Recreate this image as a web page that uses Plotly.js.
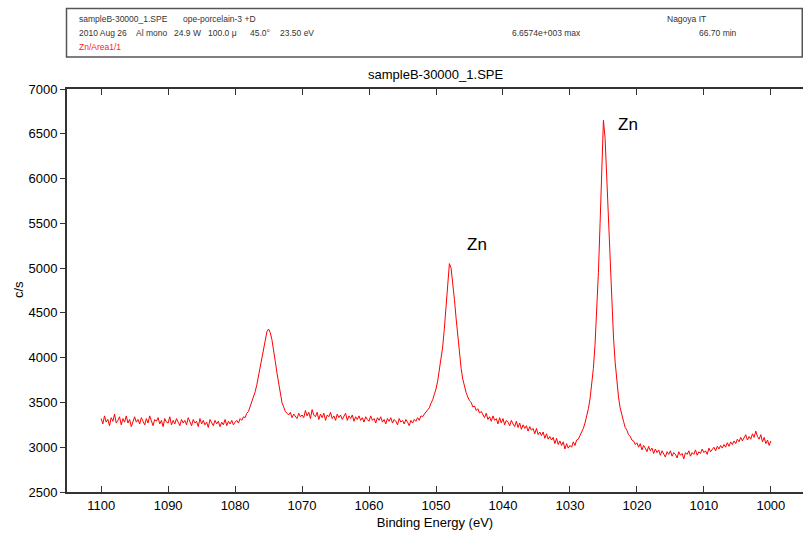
<!DOCTYPE html>
<html>
<head>
<meta charset="utf-8">
<script src="https://cdn.plot.ly/plotly-3.0.1.min.js"></script>
<style>html,body{margin:0;padding:0;background:#fff;}#chart{width:803px;height:540px;}</style>
</head>
<body>
<div id="chart"></div>
<script>
// Binding energies from 1100 eV down to 1000 eV in 0.25 eV steps
const startEnergy = 1100;
const energyStep = 0.25;
// Counts per second
const counts = [
 // 1100 -> 1080
 3320,3260,3350,3280,3310,3240,3330,3290,3370,3270,
 3300,3340,3250,3320,3280,3350,3270,3310,3230,3300,
 3340,3280,3310,3260,3330,3290,3250,3320,3270,3350,
 3280,3240,3310,3290,3330,3260,3300,3230,3320,3280,
 3270,3340,3250,3300,3260,3320,3280,3240,3310,3270,
 3300,3250,3330,3280,3240,3310,3270,3290,3230,3320,
 3260,3300,3250,3280,3220,3310,3270,3240,3300,3260,
 3290,3230,3280,3250,3310,3240,3290,3260,3300,3250,
 3280,
 // 1079.75 -> 1070 (peak near 1075)
 3300,3270,3320,3300,3340,3330,3380,3400,3450,3500,
 3570,3620,3700,3800,3900,4020,4130,4230,4290,4320,
 4280,4200,4100,3960,3830,3700,3590,3500,3450,3400,
 3380,3360,3390,3330,3370,3350,3320,3380,3340,3360,
 // 1069.75 -> 1053.25
 3330,3410,3350,3390,3320,3420,3360,3340,3390,3310,
 3370,3330,3380,3300,3360,3340,3390,3320,3350,3300,
 3370,3330,3360,3310,3340,3380,3300,3350,3320,3360,
 3290,3340,3310,3350,3300,3330,3280,3340,3310,3290,
 3350,3300,3320,3270,3330,3300,3340,3280,3310,3260,
 3320,3290,3330,3270,3310,3290,3250,3320,3280,3300,
 3260,3310,3280,3240,3300,3270,3310,
 // 1053 -> 1043 (peak near 1048)
 3290,3330,3300,3350,3340,3370,3390,3420,3440,3490,
 3530,3590,3650,3740,3850,3980,4120,4330,4600,4880,
 5050,5000,4850,4650,4440,4230,4040,3880,3760,3680,
 3610,3560,3520,3500,3450,3460,3410,3430,3380,3400,
 3360,
 // 1042.75 -> 1028.25
 3330,3380,3310,3340,3290,3350,3300,3320,3260,3330,
 3270,3320,3250,3300,3280,3240,3300,3260,3230,3290,
 3220,3270,3200,3250,3210,3240,3180,3230,3190,3210,
 3150,3210,3140,3170,3130,3170,3100,3150,3090,3120,
 3080,3110,3040,3100,3030,3070,3020,3060,2980,3040,
 2990,3020,3000,3060,3020,3080,3090,3130,3170,
 // 1028 -> 1020 (peak near 1025)
 3210,3270,3340,3430,3540,3690,3880,4150,4500,4950,
 5500,6150,6650,6450,6000,5500,5000,4580,4230,3950,
 3730,3560,3440,3350,3290,3220,3190,3140,3120,3080,
 3070,3030,3050,
 // 1019.75 -> 1000
 3000,3040,2970,3020,2990,2950,3010,2960,2990,2930,
 2980,2940,2970,2910,2960,2930,2890,2950,2920,2960,
 2900,2940,2920,2880,2950,2910,2930,2870,2940,2920,
 2960,2900,2940,2920,2970,2910,2950,2930,2980,2940,
 2960,2920,2990,2950,2970,3000,2960,3010,2980,3020,
 2990,3030,3000,3050,3010,3060,3030,3070,3040,3090,
 3060,3110,3070,3100,3140,3080,3120,3090,3150,3110,
 3180,3120,3090,3140,3060,3110,3040,3080,3020,3070
];
const energies = counts.map((_, i) => startEnergy - i * energyStep);

const chartTitle = 'sampleB-30000_1.SPE';
const xTitle = 'Binding Energy (eV)';
const yTitle = 'c/s';
const peakLabels = ['Zn', 'Zn'];
const peakLabelX = [1043.9, 1021.4];
const peakLabelY = [5260, 6600];
const xTickVals = [1100,1090,1080,1070,1060,1050,1040,1030,1020,1010,1000];
const yTickVals = [2500,3000,3500,4000,4500,5000,5500,6000,6500,7000];
// header box texts
const headerTexts = ['sampleB-30000_1.SPE', 'ope-porcelain-3 +D', 'Nagoya IT',
  '2010 Aug 26', 'Al mono', '24.9 W', '100.0 \u03bc', '45.0\u00b0', '23.50 eV',
  '6.6574e+003 max', '66.70 min', 'Zn/Area1/1'];
const headerLeft = [77, 181, 665, 77, 134, 172, 206, 248, 278, 510, 697, 77];
const headerRow = [0, 0, 0, 1, 1, 1, 1, 1, 1, 1, 1, 2];

const font = 'Liberation Sans, Arial, sans-serif';
const plotL = 67, plotT = 89, plotB = 492, plotW = 736, plotH = 403;
const px2x = p => (p - plotL) / plotW;
const px2y = p => (plotB - p) / plotH;
const rowY = [18.7, 33, 47];

const annotations = headerTexts.map((t, i) => ({
  xref: 'paper', yref: 'paper', x: px2x(headerLeft[i]), y: px2y(rowY[headerRow[i]]),
  xanchor: 'left', yanchor: 'middle', text: t, showarrow: false,
  font: {family: font, size: 8.5, color: headerRow[i] === 2 ? '#ff2020' : '#333'}
}));
annotations.push({xref:'paper', yref:'paper', x:0.5, y:px2y(75), xanchor:'center', yanchor:'middle',
  text: chartTitle, showarrow:false, font:{family:font, size:13, color:'#000'}});
annotations.push({xref:'paper', yref:'paper', x:px2x(18), y:px2y(290), xanchor:'center', yanchor:'middle',
  text: yTitle, textangle: -90, showarrow:false, font:{family:font, size:13, color:'#000'}});
peakLabels.forEach((t, i) => annotations.push({
  x: peakLabelX[i], y: peakLabelY[i], text: t, showarrow: false,
  xanchor: 'center', yanchor: 'middle', font: {family: font, size: 17, color: '#000'}
}));

const trace = {
  x: energies, y: counts, type: 'scatter', mode: 'lines',
  line: {color: '#ff0000', width: 1}, hoverinfo: 'skip'
};

const layout = {
  width: 803, height: 540,
  margin: {l: plotL, r: 0, t: plotT, b: 540 - plotB, pad: 0},
  paper_bgcolor: '#fff', plot_bgcolor: '#fff',
  showlegend: false,
  font: {family: font, size: 13, color: '#000'},
  xaxis: {
    range: [1105.1, 995.2], tickvals: xTickVals, ticks: 'inside', ticklen: 6,
    tickcolor: '#333', showline: true, linecolor: '#333', linewidth: 2, mirror: 'ticks',
    showgrid: false, zeroline: false,
    tickfont: {family: font, size: 13, color: '#000'},
    title: {text: xTitle, font: {family: font, size: 13, color: '#000'}, standoff: 6}
  },
  yaxis: {
    range: [2500, 7000], tickvals: yTickVals, ticks: 'outside', ticklen: 5,
    tickcolor: '#333', showline: true, linecolor: '#333', linewidth: 2, mirror: true,
    showgrid: false, zeroline: false,
    tickfont: {family: font, size: 13, color: '#000'}
  },
  shapes: [
    {type: 'rect', xref: 'paper', yref: 'paper', x0: px2x(66.5), x1: 0.999, y0: px2y(57), y1: px2y(8.5),
     line: {color: '#555', width: 1.5}, fillcolor: 'rgba(0,0,0,0)'}
  ],
  annotations: annotations
};

Plotly.newPlot('chart', [trace], layout, {displayModeBar: false, staticPlot: true});
</script>
</body>
</html>
